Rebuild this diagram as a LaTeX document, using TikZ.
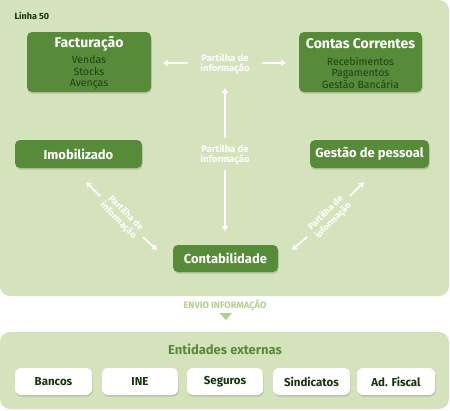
\documentclass[tikz,border=0pt]{standalone}
\usepackage{fontspec}
\setmainfont{Fira Sans}
\usetikzlibrary{arrows.meta,shadows}
\definecolor{panel}{RGB}{212,227,188}
\definecolor{boxg}{RGB}{88,139,57}
\definecolor{subg}{RGB}{26,66,18}
\definecolor{darkt}{RGB}{22,52,14}
\definecolor{envio}{RGB}{178,206,146}
\tikzset{
  gbox/.style={draw=none,fill=boxg,rounded corners=5pt,
    drop shadow={opacity=0.35,shadow xshift=0.6pt,shadow yshift=-1.6pt},
    text=white,font=\bfseries\fontsize{13}{14}\selectfont,align=center,inner sep=0pt},
  wbox/.style={draw=none,fill=white,rounded corners=6pt,
    drop shadow={opacity=0.35,shadow xshift=0.6pt,shadow yshift=-1.6pt},
    text=darkt,font=\bfseries\fontsize{11.5}{13}\selectfont,
    minimum width=77pt,minimum height=27pt,inner sep=0pt},
  sub/.style={text=subg,font=\fontsize{10.5}{11.5}\selectfont,align=center},
  btitle/.style={font=\bfseries\fontsize{14}{15}\selectfont,text=white},
  plabel/.style={text=white,font=\bfseries\fontsize{9.5}{9.5}\selectfont,align=center,inner sep=1pt},
  dlabel/.style={text=white,font=\bfseries\fontsize{9}{10.5}\selectfont,align=center,inner sep=1pt},
  arr/.style={draw=white,line width=1.6pt,-{Triangle[width=6pt,length=5pt]}},
}
\begin{document}
\begin{tikzpicture}[x=1pt,y=-1pt]
\useasboundingbox (0,0) rectangle (450,410);
% main panel
\fill[panel,rounded corners=10pt] (0,0) rectangle (449,296);
\fill[panel] (0,0) rectangle (15,15);
\node[anchor=west,text=darkt,font=\bfseries\fontsize{9}{10}\selectfont] (linha) at (11,15.5) {Linha 50};

\node[gbox,minimum width=124pt,minimum height=60pt] (fact) at (89,62) {};
\node[btitle] (factt) at (89,44) {Facturação};
\node[sub] (facts) at (89,72.5) {Vendas\\Stocks\\Avenças};

\node[gbox,minimum width=123pt,minimum height=60pt] (cont) at (360.5,62) {};
\node[btitle] (contt) at (360.5,44) {Contas Correntes};
\node[sub] (conts) at (360.5,72.5) {Recebimentos\\Pagamentos\\Gestão Bancária};

\node[gbox,minimum width=127pt,minimum height=28pt] (imob) at (78.5,154) {Imobilizado};
\node[gbox,minimum width=119pt,minimum height=28pt] (gest) at (369.5,154) {Gestão de pessoal};
\node[gbox,minimum width=105pt,minimum height=27pt] (contab) at (225.5,258.5) {Contabilidade};

% top labels and arrows
\node[plabel] (ptop) at (225,64) {Partilha de\\informação};
\coordinate (tl) at (163,63);
\coordinate (tr) at (286,63);
\coordinate (tls) at (188,63);
\coordinate (trs) at (262,63);
\draw[arr] (tls) -- (tl);
\draw[arr] (trs) -- (tr);

\node[plabel] (pmid) at (225,155) {Partilha de\\informação};
\coordinate (vt) at (225,88);
\coordinate (vb) at (225,231);
\coordinate (vts) at (225,138);
\coordinate (vbs) at (225,170);
\draw[arr] (vts) -- (vt);
\draw[arr] (vbs) -- (vb);

% diagonals
\node[dlabel,rotate=-45] (pl) at (122,217) {Partilha de\\informação};
\coordinate (dl1) at (86,182);
\coordinate (dl2) at (157,250);
\coordinate (dl1s) at (100,196);
\coordinate (dl2s) at (143,237);
\draw[arr] (dl1s) -- (dl1);
\draw[arr] (dl2s) -- (dl2);
\node[dlabel,rotate=45] (pr) at (329.5,217) {Partilha de\\informação};
\coordinate (dr1) at (364,182);
\coordinate (dr2) at (292,250);
\coordinate (dr1s) at (350,196);
\coordinate (dr2s) at (307,237);
\draw[arr] (dr1s) -- (dr1);
\draw[arr] (dr2s) -- (dr2);

% envio
\node[text=envio,font=\fontsize{9.3}{10}\selectfont\fontseries{sb}\selectfont] (envio) at (225,305) {ENVIO INFORMAÇÃO};
\fill[envio] (219.5,313) -- (232,313) -- (225.75,320) -- cycle;

% bottom panel
\fill[panel,rounded corners=10pt] (0,332) rectangle (449,409);
\node[text=boxg,font=\bfseries\fontsize{13}{14}\selectfont] (ent) at (225,349) {Entidades externas};
\node[wbox] (bancos) at (53.5,381.5) {Bancos};
\node[wbox,minimum width=76pt] (ine) at (140,381.5) {INE};
\node[wbox,minimum width=76pt] (seg) at (225,381.5) {Seguros};
\node[wbox] (sind) at (311.5,381.5) {Sindicatos};
\node[wbox,minimum width=78pt] (adf) at (396,381.5) {Ad. Fiscal};
\end{tikzpicture}
\end{document}
